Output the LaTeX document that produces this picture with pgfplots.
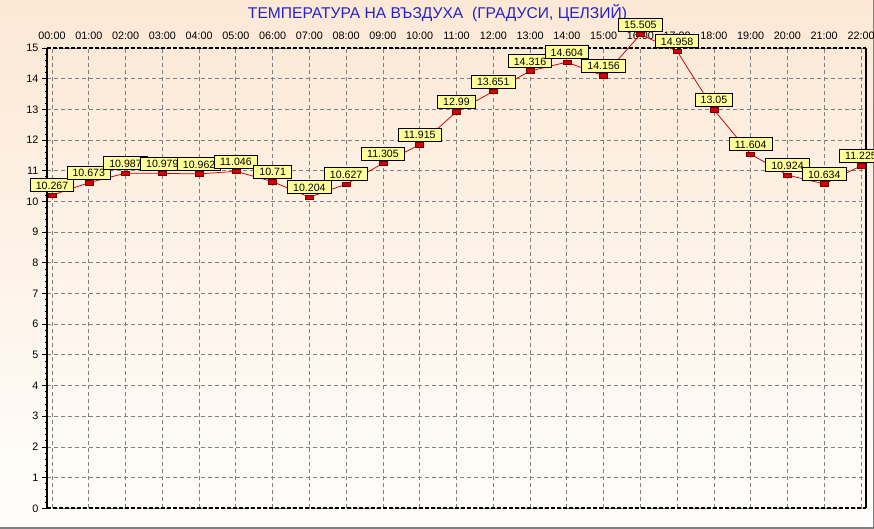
\documentclass[border=0pt]{standalone}
\usepackage{pgfplots}
\pgfplotsset{compat=1.18}
\usepackage{fontspec}
\setmainfont{Liberation Sans}
\definecolor{titleblue}{RGB}{36,36,200}
\definecolor{bgtop}{RGB}{252,232,213}
\definecolor{bgbot}{RGB}{255,254,252}
\definecolor{labfill}{RGB}{255,255,153}
\definecolor{linered}{RGB}{204,0,0}
\definecolor{markred}{RGB}{210,0,0}
\definecolor{markedge}{RGB}{120,0,0}
\definecolor{gridgray}{RGB}{128,128,128}
\pgfdeclareplotmark{redrect}{%
 \pgfpathrectangle{\pgfpoint{-4pt}{-2.25pt}}{\pgfpoint{8pt}{4.5pt}}%
 \pgfusepathqfillstroke}
\pgfplotstableread{
x y lab
0 10.267 10.267
1 10.673 10.673
2 10.987 10.987
3 10.979 10.979
4 10.962 10.962
5 11.046 11.046
6 10.71 10.71
7 10.204 10.204
8 10.627 10.627
9 11.305 11.305
10 11.915 11.915
11 12.99 12.99
12 13.651 13.651
13 14.316 14.316
14 14.604 14.604
15 14.156 14.156
16 15.505 15.505
17 14.958 14.958
18 13.05 13.05
19 11.604 11.604
20 10.924 10.924
21 10.634 10.634
22 11.225 11.225
}\temps
\begin{document}
\begin{tikzpicture}[x=1pt,y=1pt]
\useasboundingbox (0,0) rectangle (874,529);
\clip (0,0) rectangle (874,529);
\shade[top color=bgtop, bottom color=bgbot] (0,0) rectangle (874,529);
\draw[gray, line width=1.5pt] (0,0.75) -- (873.25,0.75) -- (873.25,529);
\node[text=titleblue, font=\fontsize{15.6}{18}\selectfont] at (437.5,515.5) {ТЕМПЕРАТУРА НА ВЪЗДУХА\ \ (ГРАДУСИ, ЦЕЛЗИЙ)};
\begin{axis}[
 at={(47pt,20.7pt)}, anchor=south west, scale only axis,
 width=819pt, height=460.3pt,
 xmin=-0.136, xmax=22.136, ymin=0, ymax=15,
 xtick={0,...,22},
 xticklabels={00:00,01:00,02:00,03:00,04:00,05:00,06:00,07:00,08:00,09:00,10:00,11:00,12:00,13:00,14:00,15:00,16:00,17:00,18:00,19:00,20:00,21:00,22:00},
 xticklabel pos=upper,
 xtick style={draw=none},
 ytick={0,...,15},
 ytick pos=left,
 minor y tick num=4,
 tick align=outside,
 major tick length=5pt,
 minor tick length=2.5pt,
 ytick style={black, line width=0.8pt},
 minor tick style={black, line width=0.8pt},
 grid=major,
 major grid style={gridgray, dash pattern=on 4pt off 3pt, line width=0.8pt},
 axis line style={draw=none},
 clip=false,
 tick label style={font=\fontsize{10.8}{12}\selectfont, text=black},
 xticklabel style={anchor=south, inner sep=0pt, yshift=3.5pt},
 yticklabel style={/pgf/number format/assume math mode=true, inner sep=1pt, xshift=-2.5pt},
]
\draw[black, line width=1.6pt, dash pattern=on 4pt off 2pt] (rel axis cs:0,1) -- (rel axis cs:1,1);
\draw[black, line width=1.6pt, dash pattern=on 4pt off 2pt] (rel axis cs:0,0) -- (rel axis cs:1,0);
\draw[black, line width=1.5pt] (rel axis cs:1,0) -- (rel axis cs:1,1);
\draw[black, line width=2.6pt] (rel axis cs:0,0) -- (rel axis cs:0,1);
\addplot[linered, line width=0.75pt, yshift=-2pt,
  mark=redrect, mark options={fill=markred, draw=markedge, line width=0.5pt},
  point meta=explicit symbolic,
  nodes near coords,
  nodes near coords style={anchor=south, fill=labfill, draw=black, line width=0.8pt,
    inner xsep=5.5pt, inner ysep=2.5pt, text height=8pt, text depth=0pt,
    font=\fontsize{10.6}{12}\selectfont, text=black, yshift=3pt}]
 table[x=x, y=y, meta=lab] {\temps};
\end{axis}
\end{tikzpicture}
\end{document}
